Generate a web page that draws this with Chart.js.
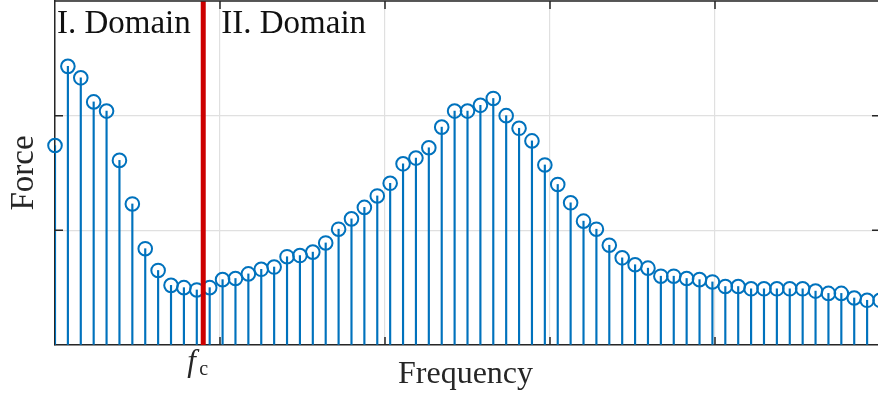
<!DOCTYPE html>
<html>
<head>
<meta charset="utf-8">
<script src="https://cdn.jsdelivr.net/npm/chart.js@4/dist/chart.umd.min.js"></script>
<style>
  html, body { margin: 0; padding: 0; background: #fff; overflow: hidden; }
  #wrap { position: relative; width: 884px; height: 394px; }
</style>
</head>
<body>
<div id="wrap"><canvas id="stem" width="884" height="394"></canvas></div>
<script>
// frequency bins and the force measured in each one
var freq = [0, 1, 2, 3, 4, 5, 6, 7, 8, 9, 10, 11, 12, 13, 14, 15, 16, 17, 18, 19,
	20, 21, 22, 23, 24, 25, 26, 27, 28, 29, 30, 31, 32, 33, 34, 35, 36, 37, 38, 39,
	40, 41, 42, 43, 44, 45, 46, 47, 48, 49, 50, 51, 52, 53, 54, 55, 56, 57, 58, 59,
	60, 61, 62, 63, 64];
var force = [1.74, 2.43, 2.33, 2.12, 2.04, 1.61, 1.23, 0.84, 0.65, 0.52,
	0.50, 0.48, 0.50, 0.57, 0.58, 0.62, 0.66, 0.68, 0.77, 0.78,
	0.81, 0.89, 1.01, 1.10, 1.20, 1.30, 1.41, 1.58, 1.63, 1.72,
	1.90, 2.04, 2.04, 2.09, 2.15, 2.00, 1.89, 1.78, 1.57, 1.40,
	1.24, 1.08, 1.01, 0.87, 0.76, 0.70, 0.67, 0.60, 0.60, 0.58,
	0.57, 0.55, 0.51, 0.51, 0.49, 0.49, 0.49, 0.49, 0.49, 0.47,
	0.45, 0.45, 0.41, 0.39, 0.39];

// cut-off frequency splitting the two domains
var fc = 11.5;

var xTicks = [0, 12.8, 25.6, 38.4, 51.2, 64];
var yTicks = [0, 1, 2, 3];
var domainLabels = ['I. Domain', 'II. Domain'];
var xTitle = 'Frequency';
var yTitle = 'Force';

var blue = '#0072BD';
var red = '#CC0000';
var ink = '#262626';
var gridColor = '#e0e0e0';
var serif = '"Liberation Serif", "Times New Roman", serif';

var points = freq.map(function (f, i) { return { x: f, y: force[i] }; });

// no tick labels, so the scales take no room and add no padding
function flatten(scale) {
	if (scale.isHorizontal()) { scale.height = 0; } else { scale.width = 0; }
	scale.paddingTop = 0;
	scale.paddingBottom = 0;
	scale.paddingLeft = 0;
	scale.paddingRight = 0;
}

// MATLAB style frame: inward ticks, top/right box lines and the text labels
var frame = {
	id: 'frame',
	afterDraw: function (chart) {
		var ctx = chart.ctx;
		var a = chart.chartArea;
		var xs = chart.scales.x;
		var ys = chart.scales.y;
		var tick = 8;

		ctx.save();
		ctx.strokeStyle = ink;
		ctx.lineWidth = 1.5;

		ctx.beginPath();
		ctx.moveTo(a.left, a.top);
		ctx.lineTo(a.right, a.top);
		ctx.lineTo(a.right, a.bottom);
		ctx.stroke();

		ctx.beginPath();
		for (var i = 1; i < xTicks.length - 1; i++) {
			var px = xs.getPixelForValue(xTicks[i]);
			ctx.moveTo(px, a.bottom);
			ctx.lineTo(px, a.bottom - tick);
			ctx.moveTo(px, a.top);
			ctx.lineTo(px, a.top + tick);
		}
		for (var j = 1; j < yTicks.length - 1; j++) {
			var py = ys.getPixelForValue(yTicks[j]);
			ctx.moveTo(a.left, py);
			ctx.lineTo(a.left + tick, py);
			ctx.moveTo(a.right, py);
			ctx.lineTo(a.right - tick, py);
		}
		ctx.stroke();

		ctx.textBaseline = 'alphabetic';

		// domain names at the top of the plot
		ctx.font = '33px ' + serif;
		ctx.textAlign = 'left';
		ctx.fillStyle = '#111';
		ctx.fillText(domainLabels[0], xs.getPixelForValue(0.15), a.top + 32);
		ctx.fillText(domainLabels[1], xs.getPixelForValue(12.9), a.top + 32);

		// axis titles
		ctx.fillStyle = ink;
		ctx.font = '32px ' + serif;
		ctx.textAlign = 'center';
		ctx.fillText(xTitle, (a.left + a.right) / 2 - 2, a.bottom + 38);

		ctx.save();
		ctx.translate(a.left - 22, (a.top + a.bottom) / 2);
		ctx.rotate(-Math.PI / 2);
		ctx.font = '33px ' + serif;
		ctx.fillText(yTitle, 0, 0);
		ctx.restore();

		// f_c label under the red marker
		var xc = xs.getPixelForValue(fc);
		ctx.textAlign = 'left';
		ctx.font = 'italic 31px ' + serif;
		ctx.fillText('f', xc - 16, a.bottom + 26);
		ctx.font = '20px ' + serif;
		ctx.fillText('c', xc - 4, a.bottom + 30);

		ctx.restore();
	}
};

var chart = new Chart(document.getElementById('stem'), {
	type: 'scatter',
	data: {
		datasets: [
			{
				type: 'line',
				data: [{ x: fc, y: 0 }, { x: fc, y: 3 }],
				borderColor: red,
				borderWidth: 5,
				pointRadius: 0,
				order: 0
			},
			{
				type: 'scatter',
				data: points,
				pointStyle: 'circle',
				pointRadius: 6.8,
				pointBorderWidth: 2,
				borderColor: blue,
				backgroundColor: 'rgba(0,0,0,0)',
				clip: false,
				order: 1
			},
			{
				type: 'bar',
				data: points,
				backgroundColor: blue,
				borderWidth: 0,
				barThickness: 1.5,
				order: 2
			}
		]
	},
	options: {
		responsive: false,
		animation: false,
		devicePixelRatio: 1,
		events: [],
		layout: { autoPadding: false, padding: { left: 55, top: 1, right: 4, bottom: 49 } },
		plugins: {
			legend: { display: false },
			tooltip: { enabled: false }
		},
		scales: {
			x: {
				type: 'linear',
				min: 0,
				max: 64,
				offset: false,
				afterBuildTicks: function (scale) {
					scale.ticks = xTicks.map(function (v) { return { value: v }; });
				},
				afterFit: flatten,
				ticks: { display: false },
				grid: { color: gridColor, lineWidth: 1.2, drawTicks: false, offset: false },
				border: { display: true, color: ink, width: 1.5 }
			},
			y: {
				type: 'linear',
				min: 0,
				max: 3,
				afterBuildTicks: function (scale) {
					scale.ticks = yTicks.map(function (v) { return { value: v }; });
				},
				afterFit: flatten,
				ticks: { display: false },
				grid: { color: gridColor, lineWidth: 1.2, drawTicks: false },
				border: { display: true, color: ink, width: 1.5 }
			}
		}
	},
	plugins: [frame]
});
</script>
</body>
</html>
